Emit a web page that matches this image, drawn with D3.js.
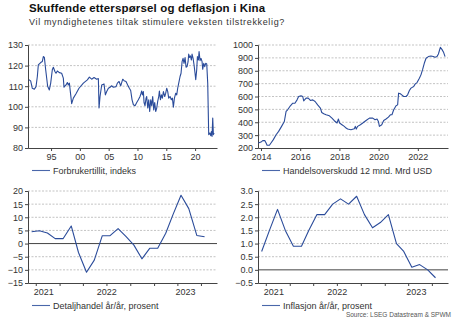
<!DOCTYPE html>
<html>
<head>
<meta charset="utf-8">
<script src="https://cdn.jsdelivr.net/npm/d3@7"></script>
<style>
    body { margin: 0; background: #fff; }
    svg text { font-family: "Liberation Sans", Arial, sans-serif; }
</style>
</head>
<body>
<div id="chart"></div>
<script>
// consumer confidence (decimal year, index)
const ccYear = [1991.17,1991.46,1991.75,1992.10,1992.39,1992.62,1992.79,1993.20,1993.49,1993.66,1993.84,1994.07,1994.41,1994.70,1994.94,
    1995.22,1995.40,1995.69,1995.86,1996.09,1996.44,1996.84,1997.13,1997.25,1997.60,1997.83,1998.00,1998.18,1998.41,1998.58,1998.87,
    1999.33,1999.85,2000.61,2001.30,2001.65,2002.05,2002.46,2002.92,2003.21,2003.33,2003.50,2003.79,2004.19,2004.43,2004.66,2004.95,
    2005.24,2005.53,2005.81,2006.28,2006.51,2006.80,2007.09,2007.44,2007.67,2008.01,2008.30,2008.59,2008.82,2009.06,2009.29,2009.58,
    2009.87,2010.15,2010.44,2010.62,2010.73,2010.85,2011.02,2011.14,2011.31,2011.49,2011.60,2011.78,2011.95,2012.12,2012.30,2012.47,
    2012.64,2012.82,2012.99,2013.16,2013.34,2013.51,2013.69,2013.80,2013.98,2014.15,2014.32,2014.50,2014.73,2014.90,2015.07,2015.25,
    2015.42,2015.65,2015.88,2016.06,2016.23,2016.41,2016.64,2016.81,2016.98,2017.22,2017.39,2017.56,2017.74,2017.91,2018.08,2018.26,
    2018.43,2018.60,2018.78,2018.89,2019.01,2019.18,2019.36,2019.47,2019.65,2019.82,2019.99,2020.11,2020.28,2020.40,2020.57,2020.69,
    2020.86,2021.03,2021.21,2021.32,2021.50,2021.67,2021.84,2022.02,2022.19,2022.36,2022.54,2022.71,2022.82,2022.94,2023.06,2023.17,2023.29];
const ccValue = [113.1,112.6,109.0,108.5,109.8,114.7,120.3,121.5,122.0,124.4,124.0,118.0,110.0,108.2,111.5,
    118.0,119.2,117.0,116.3,117.4,116.6,116.3,113.9,109.5,110.6,111.8,110.6,111.5,105.8,101.5,104.2,
    106.3,109.0,111.5,113.1,114.4,113.4,114.2,113.4,113.7,99.4,105.0,110.6,111.1,105.8,107.4,109.0,
    109.5,110.2,109.5,109.8,111.5,112.3,110.2,113.4,112.7,112.3,110.6,109.0,107.9,103.4,101.0,100.5,
    102.1,103.4,105.0,106.6,107.7,105.8,107.4,102.1,100.5,104.2,105.0,99.4,103.4,97.7,103.4,100.5,
    105.0,98.5,102.1,97.7,99.4,102.6,105.0,107.7,103.4,105.8,104.2,107.4,105.0,106.6,109.0,107.4,
    104.2,105.0,103.4,104.2,99.8,104.2,106.6,105.8,109.0,112.3,114.7,116.3,121.9,123.5,121.1,123.9,
    119.2,119.5,121.9,125.6,124.0,124.7,122.7,125.6,123.5,120.3,116.3,113.1,118.0,124.4,122.7,126.8,
    122.4,123.5,121.9,118.2,121.1,119.5,121.1,120.8,111.5,86.5,87.3,86.0,88.0,85.6,94.5,86.5,87.3];

// trade surplus, 12 month sum (decimal year, bn USD)
const tsYear = [2013.86,2014.00,2014.09,2014.20,2014.26,2014.31,2014.43,2014.51,2014.63,2014.77,2014.90,2015.05,2015.19,2015.28,
    2015.36,2015.50,2015.62,2015.73,2015.84,2015.92,2016.04,2016.13,2016.18,2016.30,2016.41,2016.52,2016.64,2016.76,2016.89,2017.03,
    2017.10,2017.20,2017.32,2017.49,2017.62,2017.74,2017.88,2017.95,2018.01,2018.13,2018.25,2018.34,2018.42,2018.59,2018.76,2018.81,
    2018.86,2018.93,2019.07,2019.19,2019.36,2019.53,2019.70,2019.82,2019.92,2019.99,2020.04,2020.16,2020.26,2020.38,2020.50,2020.60,
    2020.68,2020.77,2020.89,2020.97,2021.02,2021.11,2021.18,2021.28,2021.40,2021.48,2021.57,2021.65,2021.79,2021.87,2021.96,2022.08,
    2022.16,2022.25,2022.33,2022.42,2022.54,2022.67,2022.79,2022.88,2022.98,2023.05,2023.15,2023.23,2023.32,2023.39];
const tsValue = [239,246,257,257,239,221,221,239,265,303,329,368,406,484,
    497,528,548,548,574,600,605,600,566,587,587,569,574,561,535,510,
    476,466,458,450,432,412,394,425,394,381,368,355,347,342,350,368,
    347,368,381,394,414,432,432,419,425,406,368,381,414,425,440,458,
    458,497,528,535,626,621,613,600,600,613,646,665,677,698,708,742,
    768,812,858,897,910,915,910,905,910,930,982,966,941,910];

// monthly, Sep 2021 - Jul 2023
const months = ['2021-09','2021-10','2021-11','2021-12','2022-01','2022-02','2022-03','2022-04','2022-05','2022-06','2022-07','2022-08',
    '2022-09','2022-10','2022-11','2022-12','2023-01','2023-02','2023-03','2023-04','2023-05','2023-06','2023-07'];
const retailValue = [4.5,4.9,4.0,1.9,1.9,6.7,-3.4,-10.9,-6.3,3.0,3.0,5.7,2.6,-0.6,-5.8,-1.8,-1.8,3.9,11.0,18.4,13.3,3.1,2.6];
const cpiValue = [0.7,1.5,2.3,1.5,0.9,0.9,1.5,2.1,2.1,2.5,2.7,2.5,2.8,2.1,1.6,1.8,2.1,1.0,0.7,0.1,0.2,0.0,-0.3];

// tick labels
const ccTicks = [80, 90, 100, 110, 120, 130];
const ccYears = [1995, 2000, 2005, 2010, 2015, 2020];
const tsTicks = [200, 300, 400, 500, 600, 700, 800, 900, 1000];
const tsYears = [2014, 2016, 2018, 2020, 2022];
const retailTicks = [-15, -10, -5, 0, 5, 10, 15, 20];
const cpiTicks = [-0.5, 0, 0.5, 1, 1.5, 2, 2.5, 3];
const labelYears = [2021, 2022, 2023];

const dimensions = { width: 462, height: 324 };
const lineColor = '#2a4b9a';
const axisColor = '#444';
const textColor = '#333';

const svg = d3.select('#chart')
    .append('svg')
    .attr('width', dimensions.width)
    .attr('height', dimensions.height);

// title
svg.append('text')
    .attr('x', 29).attr('y', 12)
    .attr('font-size', '11.5px').attr('font-weight', 'bold').attr('fill', '#111')
    .attr('letter-spacing', '0.15px')
    .text('Skuffende etterspørsel og deflasjon i Kina');

svg.append('text')
    .attr('x', 29).attr('y', 25)
    .attr('font-size', '9px').attr('fill', textColor)
    .attr('letter-spacing', '0.65px')
    .text('Vil myndighetenes tiltak stimulere veksten tilstrekkelig?');

svg.append('text')
    .attr('x', 451).attr('y', 317)
    .attr('text-anchor', 'end')
    .attr('font-size', '6.5px').attr('fill', '#555')
    .text('Source: LSEG Datastream & SPWM');

const parseMonth = d3.timeParse('%Y-%m');
const monthDates = months.map(m => d3.timeDay.offset(parseMonth(m), 14));

const drawPanel = (cfg) => {
    const w = cfg.width;
    const h = cfg.height;
    const graph = svg.append('g')
        .attr('transform', `translate(${cfg.left}, ${cfg.top})`);

    const x = cfg.x.range([0, w]);
    const y = d3.scaleLinear().domain(cfg.yDomain).range([h, 0]);

    // grid
    graph.append('g')
        .selectAll('line')
        .data(cfg.yTicks.filter(t => t !== cfg.yDomain[0] && t !== 0))
        .enter().append('line')
            .attr('x1', 0).attr('x2', w)
            .attr('y1', d => y(d)).attr('y2', d => y(d))
            .attr('stroke', '#b4b4b4')
            .attr('stroke-width', 0.8)
            .attr('stroke-dasharray', '2,1.5');

    if (cfg.zeroLine) {
        graph.append('line')
            .attr('x1', 0).attr('x2', w)
            .attr('y1', y(0)).attr('y2', y(0))
            .attr('stroke', axisColor)
            .attr('stroke-width', 1);
    }

    // axes
    const yAxis = d3.axisLeft(y)
        .tickValues(cfg.yTicks)
        .tickSize(3)
        .tickPadding(2)
        .tickFormat(cfg.yFormat);

    const yAxisGroup = graph.append('g').call(yAxis);

    const xAxisGroup = graph.append('g')
        .attr('transform', `translate(0, ${h})`);

    if (cfg.xYears) {
        xAxisGroup.call(d3.axisBottom(x)
            .tickValues(cfg.xYears)
            .tickSize(3)
            .tickPadding(3)
            .tickFormat(cfg.xFormat)
            .tickSizeOuter(0));
    } else {
        const dom = x.domain();
        xAxisGroup.call(d3.axisBottom(x)
            .tickValues(d3.timeMonth.every(3).range(dom[0], dom[1]))
            .tickSize(3)
            .tickFormat('')
            .tickSizeOuter(0));

        // year labels centred on the visible part of each year
        xAxisGroup.selectAll('.year')
            .data(labelYears)
            .enter().append('text')
                .attr('class', 'year')
                .attr('x', d => {
                    const a = Math.max(+dom[0], +new Date(d, 0, 1));
                    const b = Math.min(+dom[1], +new Date(d + 1, 0, 1));
                    return (x(a) + x(b)) / 2;
                })
                .attr('y', 6)
                .attr('dy', '0.71em')
                .attr('text-anchor', 'middle')
                .text(d => d);
    }

    [yAxisGroup, xAxisGroup].forEach(grp => {
        grp.selectAll('path, line').attr('stroke', axisColor);
        grp.selectAll('text')
            .attr('fill', textColor)
            .attr('font-size', '9px')
            .attr('font-family', '"Liberation Sans", Arial, sans-serif');
    });

    // line
    const line = d3.line()
        .x(d => x(d[0]))
        .y(d => y(d[1]));

    graph.append('path')
        .datum(d3.zip(cfg.xs, cfg.ys))
        .attr('d', line)
        .attr('fill', 'none')
        .attr('stroke', lineColor)
        .attr('stroke-width', 1.1)
        .attr('stroke-linejoin', 'round');

    // legend
    const legendY = h + 22.5;
    graph.append('line')
        .attr('x1', 4).attr('x2', 22)
        .attr('y1', legendY).attr('y2', legendY)
        .attr('stroke', '#4a67aa')
        .attr('stroke-width', 1.1);

    graph.append('text')
        .attr('x', 25).attr('y', legendY)
        .attr('dy', '0.35em')
        .attr('font-size', '9px')
        .attr('fill', textColor)
        .text(cfg.legend);
};

drawPanel({
    left: 28, top: 45, width: 189, height: 103,
    x: d3.scaleLinear().domain([1991, 2023.8]),
    xs: ccYear, ys: ccValue,
    yDomain: [80, 130], yTicks: ccTicks, yFormat: d3.format('d'),
    xYears: ccYears, xFormat: d => String(d).slice(2),
    legend: 'Forbrukertillit, indeks'
});

drawPanel({
    left: 258, top: 45, width: 190, height: 103,
    x: d3.scaleLinear().domain([2013.847, 2023.54]),
    xs: tsYear, ys: tsValue,
    yDomain: [200, 1000], yTicks: tsTicks, yFormat: d3.format('d'),
    xYears: tsYears, xFormat: d3.format('d'),
    legend: 'Handelsoverskudd 12 mnd. Mrd USD'
});

drawPanel({
    left: 28, top: 191, width: 189, height: 92,
    x: d3.scaleTime().domain([new Date(2021, 8, 1), new Date(2023, 8, 1)]),
    xs: monthDates, ys: retailValue,
    yDomain: [-15, 20], yTicks: retailTicks, yFormat: d3.format('d'),
    zeroLine: true,
    legend: 'Detaljhandel år/år, prosent'
});

drawPanel({
    left: 258, top: 191, width: 190, height: 92,
    x: d3.scaleTime().domain([new Date(2021, 8, 1), new Date(2023, 8, 1)]),
    xs: monthDates, ys: cpiValue,
    yDomain: [-0.5, 3], yTicks: cpiTicks, yFormat: d3.format('.1f'),
    zeroLine: true,
    legend: 'Inflasjon år/år, prosent'
});
</script>
</body>
</html>
